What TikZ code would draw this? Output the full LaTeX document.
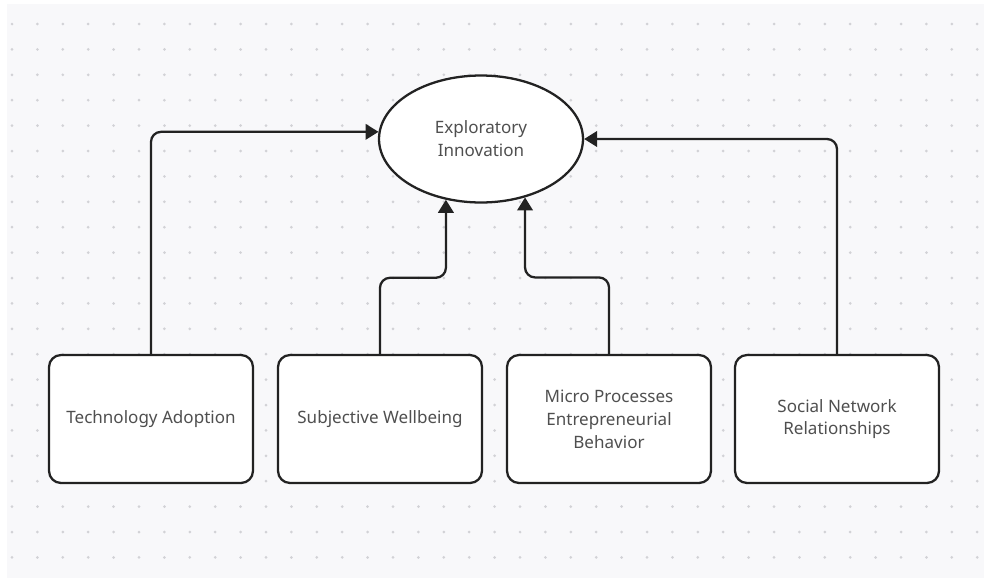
\documentclass[tikz,border=0pt]{standalone}
\usepackage{fontspec}
\setmainfont{Noto Sans}
\usetikzlibrary{arrows.meta,calc,shapes.geometric}
\definecolor{bgfill}{HTML}{F8F8FA}
\definecolor{dotgray}{HTML}{D2D2D6}
\definecolor{textgray}{HTML}{4F4F4F}
\definecolor{linedark}{HTML}{222222}
\tikzset{
	factor/.style={draw=linedark,line width=1.3pt,rounded corners=0.24cm,fill=white,
		minimum width=4.08cm,minimum height=2.56cm,align=center,text=textgray,
		font=\fontsize{9.7}{13}\selectfont},
	target/.style={draw=linedark,line width=1.3pt,ellipse,fill=white,inner sep=0pt,
		minimum width=4.08cm,minimum height=2.54cm,align=center,text=textgray,
		font=\fontsize{9.7}{13}\selectfont},
	link/.style={draw=linedark,line width=1.3pt,rounded corners=0.2cm,
		-{Triangle[length=2.6mm,width=3.1mm]}}
}
\begin{document}
\begin{tikzpicture}[x=0.02cm,y=-0.02cm]
		
		\useasboundingbox (0,0) rectangle (984,578);
		\fill[bgfill] (7,4) rectangle (984,578);
		\foreach \i in {0,...,38} {
			\foreach \j in {0,...,21} {
				\fill[dotgray] (12+25.4*\i,24+25.4*\j) circle (0.03cm);
			}
		}
		
		\node[target] (expl) at (481,139) {Exploratory\\Innovation};
		
		\node[factor] (tech) at (151,419) {Technology Adoption};
		\node[factor] (subj) at (380,419) {Subjective Wellbeing};
		\node[factor] (micr) at (609,419) {Micro Processes\\Entrepreneurial\\Behavior};
		\node[factor] (soci) at (837,419) {Social Network\\Relationships};
		
		\draw[link] (tech.north) |- (expl.176);
		\draw[link] (soci.north) |- (expl.east);
		\draw[link] (subj.north) |- ($(expl.240)+(0,78)$) -- (expl.240);
		\draw[link] (micr.north) |- ($(expl.307)+(0,80)$) -- (expl.307);
		\end{tikzpicture}
\end{document}
